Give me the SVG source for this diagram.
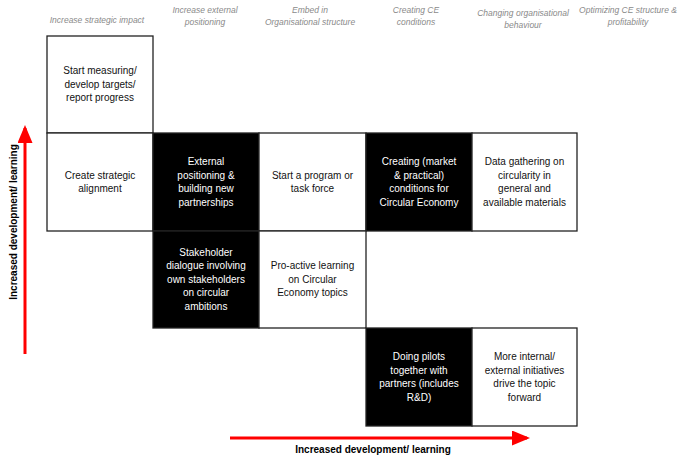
<svg xmlns="http://www.w3.org/2000/svg" width="679" height="460" viewBox="0 0 679 460">
<style>
.hdr{font-family:"Liberation Sans",Arial,sans-serif;font-size:8.5px;font-style:italic;fill:#8a8a8a;text-anchor:middle}
.box{stroke:#222;stroke-width:1.3}
.w{fill:#fff}
.b{fill:#000}
.t{font-family:"Liberation Sans",Arial,sans-serif;font-size:10px;text-anchor:middle}
.tw{fill:#fff}
.tb{fill:#111}
.ax{font-family:"Liberation Sans",Arial,sans-serif;font-size:10px;font-weight:bold;fill:#000;text-anchor:middle}
.arr{stroke:#ff0000;stroke-width:3;fill:none}
</style>
<defs>
<marker id="ah" markerWidth="6" markerHeight="5" refX="5" refY="2.5" orient="auto" markerUnits="strokeWidth">
<path d="M0,0 L6,2.5 L0,5 z" fill="#ff0000"/>
</marker>
</defs>
<g id="headers">
<text class="hdr" x="97" y="22.5">Increase strategic impact</text>
<text class="hdr" x="205" y="12.5">Increase external</text>
<text class="hdr" x="205" y="25">positioning</text>
<text class="hdr" x="310" y="12.5">Embed in</text>
<text class="hdr" x="310" y="25">Organisational structure</text>
<text class="hdr" x="416" y="12.5">Creating CE</text>
<text class="hdr" x="416" y="25">conditions</text>
<text class="hdr" x="523" y="15.5">Changing organisational</text>
<text class="hdr" x="523" y="28">behaviour</text>
<text class="hdr" x="628" y="12.5">Optimizing CE structure &amp;</text>
<text class="hdr" x="628" y="25">profitability</text>
</g>
<g id="n1">
<rect class="box w" x="47" y="36" width="106" height="97"/>
<text class="t tb" x="100" y="74">Start measuring/</text>
<text class="t tb" x="100" y="87.5">develop targets/</text>
<text class="t tb" x="100" y="101">report progress</text>
</g>
<g id="n2">
<rect class="box w" x="47" y="133" width="106" height="98"/>
<text class="t tb" x="100" y="178.5">Create strategic</text>
<text class="t tb" x="100" y="192">alignment</text>
</g>
<g id="n3">
<rect class="box b" x="153" y="133" width="106" height="98"/>
<text class="t tw" x="206" y="165">External</text>
<text class="t tw" x="206" y="178.5">positioning &amp;</text>
<text class="t tw" x="206" y="192">building new</text>
<text class="t tw" x="206" y="205.5">partnerships</text>
</g>
<g id="n4">
<rect class="box w" x="259" y="133" width="107" height="98"/>
<text class="t tb" x="312.5" y="178.5">Start a program or</text>
<text class="t tb" x="312.5" y="192">task force</text>
</g>
<g id="n5">
<rect class="box b" x="366" y="133" width="106" height="98"/>
<text class="t tw" x="419" y="165">Creating (market</text>
<text class="t tw" x="419" y="178.5">&amp; practical)</text>
<text class="t tw" x="419" y="192">conditions for</text>
<text class="t tw" x="419" y="205.5">Circular Economy</text>
</g>
<g id="n6">
<rect class="box w" x="472" y="133" width="105" height="98"/>
<text class="t tb" x="524.5" y="165">Data gathering on</text>
<text class="t tb" x="524.5" y="178.5">circularity in</text>
<text class="t tb" x="524.5" y="192">general and</text>
<text class="t tb" x="524.5" y="205.5">available materials</text>
</g>
<g id="n7">
<rect class="box b" x="153" y="231" width="106" height="97"/>
<text class="t tw" x="206" y="255.5">Stakeholder</text>
<text class="t tw" x="206" y="269">dialogue involving</text>
<text class="t tw" x="206" y="282.5">own stakeholders</text>
<text class="t tw" x="206" y="296">on circular</text>
<text class="t tw" x="206" y="309.5">ambitions</text>
</g>
<g id="n8">
<rect class="box w" x="259" y="231" width="107" height="97"/>
<text class="t tb" x="312.5" y="269">Pro-active learning</text>
<text class="t tb" x="312.5" y="282.5">on Circular</text>
<text class="t tb" x="312.5" y="296">Economy topics</text>
</g>
<g id="n9">
<rect class="box b" x="366" y="328" width="106" height="98"/>
<text class="t tw" x="419" y="360">Doing pilots</text>
<text class="t tw" x="419" y="373.5">together with</text>
<text class="t tw" x="419" y="387">partners (includes</text>
<text class="t tw" x="419" y="400.5">R&amp;D)</text>
</g>
<g id="n10">
<rect class="box w" x="472" y="328" width="105" height="98"/>
<text class="t tb" x="524.5" y="360">More internal/</text>
<text class="t tb" x="524.5" y="373.5">external initiatives</text>
<text class="t tb" x="524.5" y="387">drive the topic</text>
<text class="t tb" x="524.5" y="400.5">forward</text>
</g>
<g id="connectors">
<line class="arr" x1="25" y1="354" x2="25" y2="128" marker-end="url(#ah)"/>
<line class="arr" x1="230" y1="438" x2="527" y2="438" marker-end="url(#ah)"/>
</g>
<g id="axis-labels">
<text class="ax" transform="translate(17,222) rotate(-90)">Increased development/ learning</text>
<text class="ax" x="373" y="453">Increased development/ learning</text>
</g>
</svg>
